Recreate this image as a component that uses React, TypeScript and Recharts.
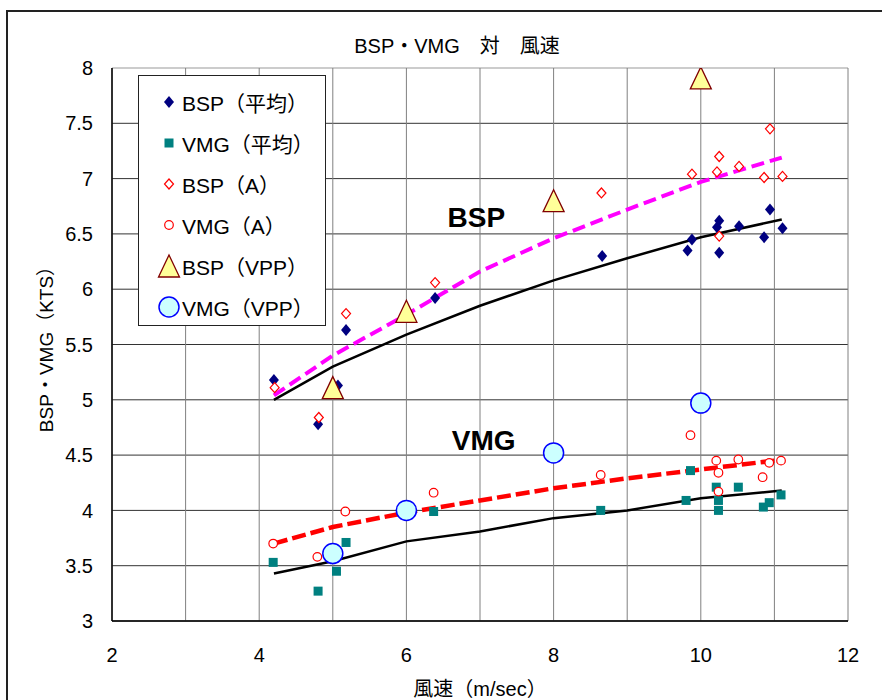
import React from 'react';
import {
  ScatterChart,
  Scatter,
  XAxis,
  YAxis,
  CartesianGrid,
  Label,
  ReferenceDot,
} from 'recharts';

// measured points [風速, kts]
const bspAvg = [
  [4.2, 5.18], [4.8, 4.78], [5.07, 5.13], [5.18, 5.63], [6.39, 5.92], [8.66, 6.3],
  [9.88, 6.45], [9.82, 6.35], [10.25, 6.62], [10.22, 6.56], [10.25, 6.33],
  [10.52, 6.57], [10.94, 6.72], [10.86, 6.47], [11.11, 6.55],
];
const vmgAvg = [
  [4.19, 3.53], [4.8, 3.27], [5.05, 3.45], [5.18, 3.71], [6.37, 3.99], [8.64, 4.0],
  [9.86, 4.36], [9.8, 4.09], [10.21, 4.21], [10.24, 4.09], [10.24, 4.0],
  [10.51, 4.21], [10.85, 4.03], [10.93, 4.07], [11.09, 4.14],
];
const bspA = [
  [4.21, 5.11], [4.81, 4.84], [5.18, 5.78], [6.39, 6.06], [8.65, 6.87],
  [9.88, 7.04], [10.25, 7.2], [10.22, 7.06], [10.25, 6.48], [10.52, 7.11],
  [10.94, 7.45], [10.86, 7.01], [11.11, 7.02],
];
const vmgA = [
  [4.19, 3.7], [4.79, 3.58], [5.17, 3.99], [6.37, 4.16], [8.64, 4.32],
  [9.86, 4.68], [10.21, 4.45], [10.24, 4.34], [10.24, 4.17], [10.51, 4.46],
  [10.84, 4.3], [10.93, 4.43], [11.09, 4.45],
];
const bspVpp = [[5, 5.11], [6, 5.8], [8, 6.8], [10, 7.91]];
const vmgVpp = [[5, 3.61], [6, 4.0], [8, 4.52], [10, 4.97]];

// trend lines
const bspAvgTrend = [
  [4.2, 5.0], [5, 5.3], [6, 5.59], [7, 5.85], [8, 6.08], [9, 6.28], [10, 6.47], [11.1, 6.63],
];
const bspATrend = [
  [4.2, 5.04], [5, 5.4], [6, 5.77], [7, 6.16], [8, 6.46], [9, 6.72], [10, 6.97], [11.1, 7.19],
];
const vmgATrend = [
  [4.2, 3.7], [5, 3.85], [6, 3.98], [7, 4.09], [8, 4.2], [9, 4.29], [10, 4.37], [11, 4.45],
];
const vmgAvgTrend = [
  [4.2, 3.43], [5, 3.54], [6, 3.72], [7, 3.81], [8, 3.93], [9, 4.0], [10, 4.11], [11.1, 4.18],
];

const xTicks = [2, 3, 4, 5, 6, 7, 8, 9, 10, 11, 12];
const yTicks = [3, 3.5, 4, 4.5, 5, 5.5, 6, 6.5, 7, 7.5, 8];

const legendItems = [
  { key: 'bspAvg', label: 'BSP（平均）' },
  { key: 'vmgAvg', label: 'VMG（平均）' },
  { key: 'bspA', label: 'BSP（A）' },
  { key: 'vmgA', label: 'VMG（A）' },
  { key: 'bspVpp', label: 'BSP（VPP）' },
  { key: 'vmgVpp', label: 'VMG（VPP）' },
];

const pts = (arr: number[][]) => arr.map(([x, y]) => ({ x, y }));

const font = '"Liberation Sans", Arial, "Noto Sans CJK JP", sans-serif';

function Marker({ kind, cx, cy }: { kind: string; cx: number; cy: number }) {
  if (cx == null || cy == null) return <g />;
  switch (kind) {
    case 'bspAvg':
      return (
        <polygon
          points={`${cx},${cy - 6} ${cx + 5},${cy} ${cx},${cy + 6} ${cx - 5},${cy}`}
          fill="#000080"
        />
      );
    case 'vmgAvg':
      return <rect x={cx - 4.5} y={cy - 4.5} width={9} height={9} fill="#008080" />;
    case 'bspA':
      return (
        <polygon
          points={`${cx},${cy - 5} ${cx + 4.5},${cy} ${cx},${cy + 5} ${cx - 4.5},${cy}`}
          fill="#fff"
          stroke="#ff0000"
          strokeWidth={1.2}
        />
      );
    case 'vmgA':
      return <circle cx={cx} cy={cy} r={4.3} fill="#fff" stroke="#ff0000" strokeWidth={1.2} />;
    case 'bspVpp':
      return (
        <polygon
          points={`${cx},${cy - 11} ${cx + 10.5},${cy + 11} ${cx - 10.5},${cy + 11}`}
          fill="#ffff99"
          stroke="#800000"
          strokeWidth={1.3}
        />
      );
    case 'vmgVpp':
      return <circle cx={cx} cy={cy} r={10} fill="#ccffff" stroke="#0000ff" strokeWidth={1.5} />;
  }
  return <g />;
}

function LegendBox() {
  return (
    <div
      style={{
        position: 'absolute',
        left: 138,
        top: 75,
        width: 188,
        height: 251,
        border: '1px solid #222',
        background: '#fff',
        boxSizing: 'border-box',
        paddingTop: 5,
      }}
    >
      {legendItems.map((it) => (
        <div key={it.key} style={{ display: 'flex', alignItems: 'center', height: 41 }}>
          <svg width={43} height={30}>
            <Marker kind={it.key} cx={30} cy={15} />
          </svg>
          <span style={{ fontFamily: font, fontSize: 21, color: '#000', whiteSpace: 'nowrap' }}>
            {it.label}
          </span>
        </div>
      ))}
    </div>
  );
}

const noShape = () => <g />;

export default function App() {
  return (
    <div
      style={{
        position: 'absolute',
        left: 0,
        top: 0,
        width: 882,
        height: 700,
        overflow: 'hidden',
        background: '#fff',
      }}
    >
      <div
        style={{
          position: 'absolute',
          left: 6,
          top: 10,
          width: 1000,
          height: 1000,
          border: '2px solid #222',
        }}
      />
      <div
        style={{
          position: 'absolute',
          left: 257,
          width: 400,
          top: 30,
          textAlign: 'center',
          fontFamily: font,
          fontSize: 20,
          color: '#000',
          whiteSpace: 'pre',
        }}
      >
        BSP・VMG　対　風速
      </div>
      <ScatterChart
        width={882}
        height={700}
        margin={{ top: 68, right: 34, bottom: 0, left: 0 }}
        style={{ position: 'absolute', left: 0, top: 0 }}
      >
        <CartesianGrid
          vertical={false}
          horizontalValues={yTicks.slice(0, -1)}
          stroke="#333"
          strokeWidth={1}
        />
        <CartesianGrid vertical={false} horizontalValues={[8]} stroke="#999" strokeWidth={1} />
        <CartesianGrid horizontal={false} stroke="#808080" strokeWidth={1} />
        <XAxis
          type="number"
          dataKey="x"
          domain={[2, 12]}
          ticks={xTicks}
          interval={0}
          allowDataOverflow
          tickFormatter={(v) => (v % 2 === 0 ? String(v) : '')}
          tickLine={false}
          tickSize={0}
          tickMargin={27}
          height={79}
          axisLine={{ stroke: '#000', strokeWidth: 1.5 }}
          tick={{ fontSize: 20, fill: '#000', fontFamily: font }}
        >
          <Label
            value="風速（m/sec）"
            position="insideBottom"
            offset={4}
            style={{ fontSize: 20, fill: '#000', fontFamily: font }}
          />
        </XAxis>
        <YAxis
          type="number"
          dataKey="y"
          domain={[3, 8]}
          ticks={yTicks}
          interval={0}
          allowDataOverflow
          width={112}
          tickLine={false}
          tickSize={0}
          tickMargin={19}
          axisLine={{ stroke: '#000', strokeWidth: 1.5 }}
          tick={{ fontSize: 20, fill: '#000', fontFamily: font }}
        >
          <Label
            content={({ viewBox }: any) => {
              const cy = viewBox.y + viewBox.height / 2;
              return (
                <text
                  x={53}
                  y={cy}
                  transform={`rotate(-90 53 ${cy})`}
                  textAnchor="middle"
                  style={{ fontSize: 19, fill: '#000', fontFamily: font }}
                >
                  BSP・VMG（KTS）
                </text>
              );
            }}
          />
        </YAxis>

        <Scatter
          data={pts(bspAvgTrend)}
          line={{ stroke: '#000', strokeWidth: 2.5 }}
          shape={noShape}
          legendType="none"
          isAnimationActive={false}
        />
        <Scatter
          data={pts(vmgAvgTrend)}
          line={{ stroke: '#000', strokeWidth: 2.5 }}
          shape={noShape}
          legendType="none"
          isAnimationActive={false}
        />
        <Scatter
          data={pts(bspATrend)}
          line={{ stroke: '#ff00ff', strokeWidth: 4, strokeDasharray: '13 6' }}
          shape={noShape}
          legendType="none"
          isAnimationActive={false}
        />
        <Scatter
          data={pts(vmgATrend)}
          line={{ stroke: '#ff0000', strokeWidth: 4.5, strokeDasharray: '14 5' }}
          shape={noShape}
          legendType="none"
          isAnimationActive={false}
        />

        <Scatter
          name="BSP（平均）"
          data={pts(bspAvg)}
          shape={(p: any) => <Marker kind="bspAvg" cx={p.cx} cy={p.cy} />}
          isAnimationActive={false}
        />
        <Scatter
          name="VMG（平均）"
          data={pts(vmgAvg)}
          shape={(p: any) => <Marker kind="vmgAvg" cx={p.cx} cy={p.cy} />}
          isAnimationActive={false}
        />
        <Scatter
          name="BSP（A）"
          data={pts(bspA)}
          shape={(p: any) => <Marker kind="bspA" cx={p.cx} cy={p.cy} />}
          isAnimationActive={false}
        />
        <Scatter
          name="VMG（A）"
          data={pts(vmgA)}
          shape={(p: any) => <Marker kind="vmgA" cx={p.cx} cy={p.cy} />}
          isAnimationActive={false}
        />
        <Scatter
          name="BSP（VPP）"
          data={pts(bspVpp)}
          shape={(p: any) => <Marker kind="bspVpp" cx={p.cx} cy={p.cy} />}
          isAnimationActive={false}
        />
        <Scatter
          name="VMG（VPP）"
          data={pts(vmgVpp)}
          shape={(p: any) => <Marker kind="vmgVpp" cx={p.cx} cy={p.cy} />}
          isAnimationActive={false}
        />

        <ReferenceDot
          x={6.95}
          y={6.65}
          r={0}
          ifOverflow="visible"
          label={{
            value: 'BSP',
            position: 'center',
            fontSize: 28,
            fontWeight: 'bold',
            fill: '#000',
            fontFamily: font,
          }}
        />
        <ReferenceDot
          x={7.05}
          y={4.64}
          r={0}
          ifOverflow="visible"
          label={{
            value: 'VMG',
            position: 'center',
            fontSize: 28,
            fontWeight: 'bold',
            fill: '#000',
            fontFamily: font,
          }}
        />
      </ScatterChart>
      <LegendBox />
    </div>
  );
}
